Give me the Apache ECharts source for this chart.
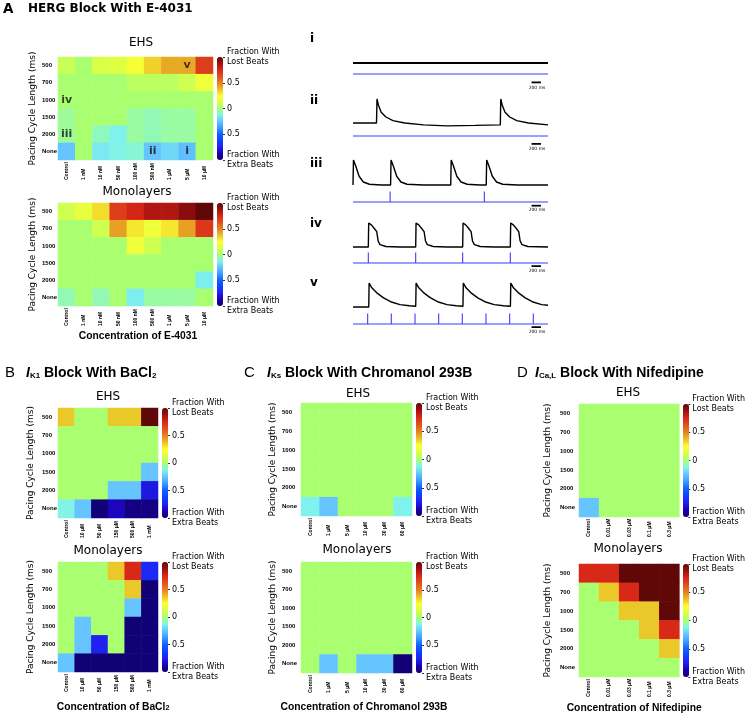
<!DOCTYPE html>
<html><head><meta charset="utf-8">
<script src="https://cdn.jsdelivr.net/npm/echarts@6/dist/echarts.min.js"></script>
<style>html,body{margin:0;padding:0;background:#fff}#c{width:748px;height:716px}</style>
</head><body><div id="c"></div>
<script>
// ---------------- DATA ----------------
const rowsCL = ['500','700','1000','1500','2000','None'];
const colsE4031 = ['Control','1 nM','10 nM','50 nM','100 nM','500 nM','1 μM','5 μM','10 μM'];
const colsBaCl2 = ['Control','10 μM','50 μM','150 μM','500 μM','1 mM'];
const colsChrom = ['Control','1 μM','5 μM','10 μM','30 μM','60 μM'];
const colsNif = ['Control','0.01 μM','0.03 μM','0.1 μM','0.3 μM'];
// + = fraction with lost beats, - = fraction with extra beats ; rows 500..None
const e4031EHS = [
  [0.08, 0, 0.13, 0.15, 0.22, 0.34, 0.42, 0.42, 0.68],
  [0, 0, 0, 0, 0.05, 0.05, 0.05, 0.1, 0.2],
  [0, 0, 0, 0, 0, 0, 0, 0, 0],
  [-0.04, 0, 0, 0, -0.05, -0.07, -0.05, -0.05, 0],
  [-0.04, 0, -0.08, -0.13, -0.05, -0.07, -0.05, -0.05, 0],
  [-0.25, 0, -0.15, -0.12, -0.1, -0.25, -0.2, -0.27, 0]
];
const e4031Mono = [
  [0.1, 0.18, 0.32, 0.68, 0.76, 0.84, 0.84, 0.92, 1.0],
  [0, 0, 0.1, 0.44, 0.3, 0.2, 0.3, 0.44, 0.7],
  [0, 0, 0, 0, 0.2, 0.1, 0, 0, 0],
  [0, 0, 0, 0, 0, 0, 0, 0, 0],
  [0, 0, 0, 0, 0, 0, 0, 0, -0.14],
  [-0.07, 0, -0.07, 0, -0.14, -0.05, -0.05, -0.05, 0]
];
const bacl2EHS = [
  [0.36, 0, 0, 0.36, 0.36, 1.0],
  [0, 0, 0, 0, 0, 0],
  [0, 0, 0, 0, 0, 0],
  [0, 0, 0, 0, 0, -0.25],
  [0, 0, 0, -0.25, -0.25, -0.78],
  [-0.12, -0.25, -0.97, -0.85, -0.95, -0.95]
];
const bacl2Mono = [
  [0, 0, 0, 0.36, 0.75, -0.72],
  [0, 0, 0, 0, 0.36, -0.97],
  [0, 0, 0, 0, -0.25, -0.97],
  [0, -0.25, 0, 0, -0.97, -0.97],
  [0, -0.25, -0.75, 0, -0.97, -0.97],
  [-0.25, -0.97, -0.97, -0.97, -0.97, -0.97]
];
const chromEHS = [
  [0, 0, 0, 0, 0, 0],
  [0, 0, 0, 0, 0, 0],
  [0, 0, 0, 0, 0, 0],
  [0, 0, 0, 0, 0, 0],
  [0, 0, 0, 0, 0, 0],
  [-0.13, -0.25, 0, 0, 0, -0.13]
];
const chromMono = [
  [0, 0, 0, 0, 0, 0],
  [0, 0, 0, 0, 0, 0],
  [0, 0, 0, 0, 0, 0],
  [0, 0, 0, 0, 0, 0],
  [0, 0, 0, 0, 0, 0],
  [0, -0.25, 0, -0.25, -0.25, -0.97]
];
const nifEHS = [
  [0, 0, 0, 0, 0],
  [0, 0, 0, 0, 0],
  [0, 0, 0, 0, 0],
  [0, 0, 0, 0, 0],
  [0, 0, 0, 0, 0],
  [-0.25, 0, 0, 0, 0]
];
const nifMono = [
  [0.75, 0.75, 1.0, 1.0, 1.0],
  [0, 0.36, 0.75, 1.0, 1.0],
  [0, 0, 0.36, 0.36, 1.0],
  [0, 0, 0, 0.36, 0.75],
  [0, 0, 0, 0, 0.36],
  [0, 0, 0, 0, 0]
];
// cell annotations in E-4031 EHS map: [column index, row index, label]
const annotE4031EHS = [[7,0,'v'],[0,2,'iv'],[0,4,'iii'],[5,5,'ii'],[7,5,'i']];

// example traces (time ms, normalised signal)
const traceI = [[0,0],[4150,0]];
const traceII = [[0,0],[500,0],[511,1],[540,0.75],[600,0.45],[700,0.25],[850,0.1],[1100,0],[1500,-0.08],[2000,-0.12],[2600,-0.1],[3135,-0.08],
  [3145,1],[3175,0.75],[3235,0.45],[3335,0.25],[3485,0.1],[3735,0],[4150,-0.08]];
const traceIII = [[0,0],[10,1],[60,0.75],[130,0.35],[220,0.12],[350,0.03],[600,0],[800,0],[810,1],[860,0.75],[930,0.35],[1020,0.12],[1150,0.03],[1500,0],
  [2080,0],[2090,1],[2140,0.75],[2210,0.35],[2300,0.12],[2430,0.03],[2700,0],[2835,0],[2845,1],[2895,0.75],[2965,0.35],[3055,0.12],[3185,0.03],[3500,0],[4150,0]];
const traceIV = [[0,0],[326,0],[334,1],[390,0.92],[450,0.78],[505,0.64],[535,0.25],[575,0.1],[700,0.02],[1000,0],[1334,0],
  [1342,1],[1398,0.92],[1458,0.78],[1513,0.64],[1543,0.25],[1583,0.1],[1708,0.02],[2000,0],[2334,0],
  [2342,1],[2398,0.92],[2458,0.78],[2513,0.64],[2543,0.25],[2583,0.1],[2708,0.02],[3000,0],[3348,0],
  [3356,1],[3412,0.92],[3472,0.78],[3527,0.64],[3557,0.25],[3597,0.1],[3722,0.02],[4150,0]];
const traceV = [[0,0],[335,0],[343,1],[400,0.8],[500,0.6],[650,0.38],[800,0.22],[1000,0.1],[1200,0.05],[1335,0.03],
  [1343,1],[1400,0.8],[1500,0.6],[1650,0.38],[1800,0.22],[2000,0.1],[2200,0.05],[2340,0.03],
  [2348,1],[2405,0.8],[2505,0.6],[2655,0.38],[2805,0.22],[3005,0.1],[3205,0.05],[3350,0.03],
  [3358,1],[3415,0.8],[3515,0.6],[3665,0.38],[3815,0.22],[4015,0.1],[4150,0.07]];
const stimI = [];
const stimII = [];
const stimIII = [790, 2795];
const stimIV = [326, 1334, 2334, 3348];
const stimV = [312, 815, 1320, 1824, 2326, 2830, 3334, 3837];
const scaleBarMs = [3800, 4000];
const traceEnd = 4150;

// ---------------- LAYOUT / STYLE ----------------
const DJ = 'DejaVu Sans', AR = 'Liberation Sans';
const colorStops = ['#0e0064','#1a00b0','#2020f0','#1040ff','#1060ff','#3a9cff','#66c4ff','#80f4ec','#aaff70',
  '#d8ff48','#ffff30','#e8c028','#e88020','#e05020','#d82818','#a01010','#600808'];
const panels = [
  {data:e4031EHS, cols:colsE4031, g:{left:58,top:57,width:155,height:103}, cbGap:4, yGap:21, yMargin:16, xMargin:20},
  {data:e4031Mono, cols:colsE4031, g:{left:58,top:203,width:155,height:103}, cbGap:4, yGap:21, yMargin:16, xMargin:20,
    xName:'Concentration of E-4031', xNameGap:25, xShift:5},
  {data:bacl2EHS, cols:colsBaCl2, g:{left:58,top:408,width:100,height:110}, cbGap:4, yGap:23, yMargin:16, xMargin:20},
  {data:bacl2Mono, cols:colsBaCl2, g:{left:58,top:562,width:100,height:110}, cbGap:4, yGap:23, yMargin:16, xMargin:20,
    xName:'Concentration of BaCl{s|2}', xNameGap:30, xShift:10},
  {data:chromEHS, cols:colsChrom, g:{left:301,top:403,width:111,height:113}, cbGap:4, yGap:24, yMargin:19, xMargin:20},
  {data:chromMono, cols:colsChrom, g:{left:301,top:562,width:111,height:111}, cbGap:4, yGap:24, yMargin:19, xMargin:20,
    xName:'Concentration of Chromanol 293B', xNameGap:29, xShift:15},
  {data:nifEHS, cols:colsNif, g:{left:579,top:404,width:101,height:113}, cbGap:3, yGap:27, yMargin:19, xMargin:20},
  {data:nifMono, cols:colsNif, g:{left:579,top:564,width:101,height:113}, cbGap:3, yGap:27, yMargin:19, xMargin:20,
    xName:'Concentration of Nifedipine', xNameGap:26, xShift:10}
];
const cbW = 6;
const traces = [
  {data:traceI, stim:stimI, top:53, height:20, min:-1, max:1, lw:2.0, stimY:74, bar:-0.8, textY:88},
  {data:traceII, stim:stimII, top:99, height:24, min:0, max:1, lw:1.4, stimY:136, bar:-0.75, textY:149},
  {data:traceIII, stim:stimIII, top:160, height:25, min:0, max:1, lw:1.4, stimY:202, bar:-0.35, textY:210},
  {data:traceIV, stim:stimIV, top:223, height:24, min:0, max:1, lw:1.4, stimY:263, bar:-0.3, textY:271},
  {data:traceV, stim:stimV, top:283, height:24, min:0, max:1, lw:1.4, stimY:324, bar:-0.3, textY:332}
];
const trLeft = 353, trWidth = 195;

// ---------------- BUILD ----------------
const grid = [], xAxis = [], yAxis = [], series = [], visualMap = [];
panels.forEach((p, i) => {
  grid.push(Object.assign({containLabel:false}, p.g));
  xAxis.push({gridIndex:i, type:'category', data:p.cols, axisLine:{show:false}, axisTick:{show:false}, splitLine:{show:false},
    axisLabel:{interval:0, rotate:90, align:'left', margin:p.xMargin, fontSize:5, fontWeight:'bold', fontFamily:AR, color:'#000'},
    name:p.xName || '', nameLocation:'middle', nameGap:p.xNameGap || 0,
    nameTextStyle:{fontFamily:AR, fontSize:10.3, fontWeight:'bold', color:'#000', padding:[0,0,0,p.xShift||0],
      rich:{s:{fontFamily:AR, fontSize:7, fontWeight:'bold', color:'#000', verticalAlign:'bottom', lineHeight:5}}}});
  yAxis.push({gridIndex:i, type:'category', data:rowsCL, inverse:true, axisLine:{show:false}, axisTick:{show:false}, splitLine:{show:false},
    axisLabel:{align:'left', margin:p.yMargin, fontSize:6, fontWeight:'bold', fontFamily:AR, color:'#000'},
    name:'Pacing Cycle Length (ms)', nameLocation:'middle', nameRotate:90, nameGap:p.yGap,
    nameTextStyle:{fontFamily:DJ, fontSize:9, color:'#000'}});
  yAxis.push({gridIndex:i, type:'value', min:-1, max:1, interval:0.5, position:'right', offset:p.cbGap + cbW,
    axisLine:{show:false}, splitLine:{show:false},
    axisTick:{show:true, length:2, lineStyle:{color:'#000', width:0.8}},
    axisLabel:{margin:4, align:'left', fontFamily:DJ, fontSize:8, lineHeight:10.5, color:'#000',
      formatter:v => v === 1 ? 'Fraction With\nLost Beats' : (v === -1 ? 'Fraction With\nExtra Beats' : (v === 0 ? '0' : '0.5'))}});
  const d = [];
  p.data.forEach((row, r) => row.forEach((v, c) => d.push([c, r, v])));
  series.push({type:'heatmap', xAxisIndex:i, yAxisIndex:2*i, data:d, emphasis:{disabled:true}, silent:true, animation:false});
  visualMap.push({type:'continuous', seriesIndex:i, min:-1, max:1, calculable:false, hoverLink:false, show:true,
    left:p.g.left + p.g.width + p.cbGap, top:p.g.top, itemWidth:cbW, itemHeight:p.g.height, padding:0,
    inRange:{color:colorStops}});
});
// annotations on E-4031 EHS map
series.push({type:'scatter', xAxisIndex:0, yAxisIndex:0, data:annotE4031EHS, symbol:'circle', symbolSize:1,
  itemStyle:{color:'rgba(0,0,0,0)'}, silent:true, animation:false,
  label:{show:true, position:'inside', formatter:q => q.value[2], fontFamily:DJ, fontWeight:'bold', fontSize:11, color:'#111'}});

// traces
traces.forEach((t, k) => {
  const gi = grid.length;
  grid.push({left:trLeft, width:trWidth, top:t.top, height:t.height});
  xAxis.push({gridIndex:gi, type:'value', min:0, max:traceEnd, show:false});
  yAxis.push({gridIndex:gi, type:'value', min:t.min, max:t.max, show:false});
  series.push({type:'line', xAxisIndex:gi, yAxisIndex:yAxis.length-1, data:t.data, symbol:'none', clip:false, silent:true, animation:false,
    lineStyle:{color:'#000', width:t.lw}});
  const si = grid.length;
  grid.push({left:trLeft, width:trWidth, top:t.stimY - 10.5, height:10.5});
  xAxis.push({gridIndex:si, type:'value', min:0, max:traceEnd, show:false});
  yAxis.push({gridIndex:si, type:'value', min:0, max:1, show:false});
  const sd = [[0,0]];
  t.stim.forEach(s => { sd.push([s,0]); sd.push([s,1]); sd.push([s,0]); });
  sd.push([traceEnd,0]);
  series.push({type:'line', xAxisIndex:si, yAxisIndex:yAxis.length-1, data:sd, symbol:'none', clip:false, silent:true, animation:false,
    lineStyle:{color:'#3c3cff', width:1.1}});
  series.push({type:'line', xAxisIndex:si, yAxisIndex:yAxis.length-1, data:[[scaleBarMs[0], t.bar],[scaleBarMs[1], t.bar]],
    symbol:'none', clip:false, silent:true, animation:false, lineStyle:{color:'#000', width:1.8}});
});

// texts
function txt(x, y, text, o) {
  return {type:'text', x:x, y:y, silent:true, style:Object.assign({text:text, fill:'#000', fontFamily:DJ, fontSize:12,
    align:'left', verticalAlign:'middle', textAlign:'left', textVerticalAlign:'middle'}, o || {})};
}
const C = {align:'center', textAlign:'center'};
const graphic = [
  txt(3, 9, 'A', {fontWeight:'bold', fontSize:13.5}),
  txt(28, 9, 'HERG Block With E-4031', {fontWeight:'bold', fontSize:12}),
  txt(141, 43, 'EHS', C), txt(137, 192, 'Monolayers', C),
  txt(108, 397, 'EHS', C), txt(108, 551, 'Monolayers', C),
  txt(358, 394, 'EHS', C), txt(357, 550, 'Monolayers', C),
  txt(628, 393, 'EHS', C), txt(628, 549, 'Monolayers', C),
  txt(310, 39, 'i', {fontWeight:'bold'}), txt(310, 101, 'ii', {fontWeight:'bold'}), txt(310, 163.5, 'iii', {fontWeight:'bold'}),
  txt(310, 224, 'iv', {fontWeight:'bold'}), txt(310, 282.5, 'v', {fontWeight:'bold'}),
  txt(5, 373, 'B', {fontFamily:AR, fontSize:15}),
  txt(244, 373, 'C', {fontFamily:AR, fontSize:15}),
  txt(517, 373, 'D', {fontFamily:AR, fontSize:15})
];
const subRich = {i:{fontFamily:AR, fontSize:14, fontStyle:'italic', fontWeight:'bold'},
  s:{fontFamily:AR, fontSize:8, fontWeight:'bold', verticalAlign:'bottom', lineHeight:6}};
graphic.push(txt(26, 373, '{i|I}{s|K1} Block With BaCl{s|2}', {fontFamily:AR, fontSize:14, fontWeight:'bold', rich:subRich}));
graphic.push(txt(267, 373, '{i|I}{s|Ks} Block With Chromanol 293B', {fontFamily:AR, fontSize:14, fontWeight:'bold', rich:subRich}));
graphic.push(txt(535, 373, '{i|I}{s|Ca,L} Block With Nifedipine', {fontFamily:AR, fontSize:14, fontWeight:'bold', rich:subRich}));
traces.forEach(t => graphic.push(txt(537, t.textY, '200 ms', Object.assign({fontSize:4.5}, C))));

const chart = echarts.init(document.getElementById('c'), null, {renderer:'canvas', width:748, height:716});
chart.setOption({animation:false, backgroundColor:'#fff', grid, xAxis, yAxis, visualMap, series, graphic});
</script></body></html>
